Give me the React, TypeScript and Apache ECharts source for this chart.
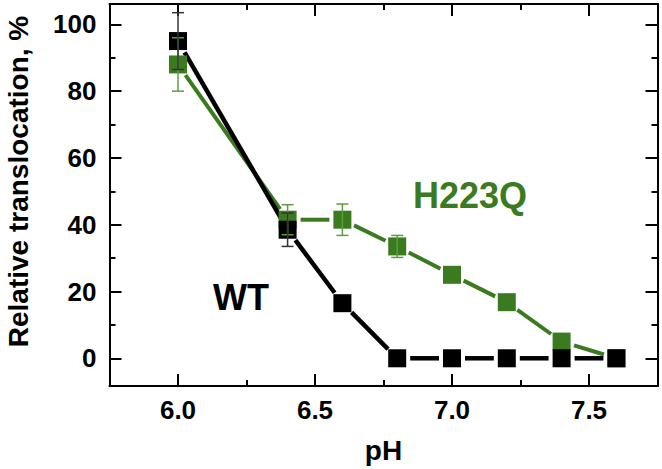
import React, { useEffect, useRef } from "react";
import * as echarts from "echarts";

// ---- data ----
const phValues = [6.0, 6.4, 6.6, 6.8, 7.0, 7.2, 7.4, 7.6];
const wtValues = [95, 38.5, 16.5, 0, 0, 0, 0, 0];
const wtErrors = [8.5, 5, 0, 0, 0, 0, 0, 0];
const h223qValues = [88, 41.5, 41.5, 33.5, 25, 16.8, 5, 0];
const h223qErrors = [8, 4.5, 4.7, 3.3, 0, 0, 0, 0];
const xTickLabels = ["6.0", "6.5", "7.0", "7.5"];
const yTickLabels = ["0", "20", "40", "60", "80", "100"];
const seriesNames = ["WT", "H223Q"];
const yAxisTitle = "Relative translocation, %";
const xAxisTitle = "pH";

const FONT = '"Liberation Sans", Arial, sans-serif';
const BLACK = "#000000";
const GREEN = "#3B7B1F";
const GREEN_ERR = "#5E9C40";
const BLACK_ERR = "#333333";

const X_MIN = 5.75;
const X_MAX = 7.75;
const Y_MIN = -8.3;
const Y_MAX = 106.1;
const LINE_GAP = 13;

function gapLine(name: string, values: number[], color: string, width: number, z: number) {
  const data = values.slice(0, -1).map((v, i) => [phValues[i], v, phValues[i + 1], values[i + 1]]);
  return {
    type: "custom",
    name,
    xAxisIndex: 0,
    yAxisIndex: 0,
    clip: false,
    silent: true,
    z,
    data,
    encode: { x: [0, 2], y: [1, 3] },
    renderItem: (_p: any, api: any) => {
      const p1 = api.coord([api.value(0), api.value(1)]);
      const p2 = api.coord([api.value(2), api.value(3)]);
      const dx = p2[0] - p1[0];
      const dy = p2[1] - p1[1];
      const len = Math.hypot(dx, dy);
      if (len <= 2 * LINE_GAP) return null;
      const ux = dx / len;
      const uy = dy / len;
      return {
        type: "line",
        shape: {
          x1: p1[0] + ux * LINE_GAP,
          y1: p1[1] + uy * LINE_GAP,
          x2: p2[0] - ux * LINE_GAP,
          y2: p2[1] - uy * LINE_GAP,
        },
        style: { stroke: color, lineWidth: width, lineCap: "butt" },
      };
    },
  };
}

function errorBars(name: string, values: number[], errs: number[], color: string, z: number) {
  const data = phValues
    .map((x, i) => [x, values[i] - errs[i], values[i] + errs[i], errs[i]])
    .filter((d) => d[3] > 0);
  return {
    type: "custom",
    name,
    xAxisIndex: 0,
    yAxisIndex: 0,
    clip: false,
    silent: true,
    z,
    data,
    encode: { x: 0, y: [1, 2] },
    renderItem: (_p: any, api: any) => {
      const lo = api.coord([api.value(0), api.value(1)]);
      const hi = api.coord([api.value(0), api.value(2)]);
      const cw = 6;
      const style = { stroke: color, lineWidth: 1.5 };
      return {
        type: "group",
        children: [
          { type: "line", shape: { x1: lo[0], y1: lo[1], x2: hi[0], y2: hi[1] }, style },
          { type: "line", shape: { x1: hi[0] - cw, y1: hi[1], x2: hi[0] + cw, y2: hi[1] }, style },
          { type: "line", shape: { x1: lo[0] - cw, y1: lo[1], x2: lo[0] + cw, y2: lo[1] }, style },
        ],
      };
    },
  };
}

function markers(name: string, values: number[], color: string, z: number) {
  return {
    type: "scatter",
    name,
    xAxisIndex: 0,
    yAxisIndex: 0,
    symbol: "rect",
    symbolSize: 18,
    clip: false,
    z,
    itemStyle: { color, opacity: 1 },
    data: phValues.map((x, i) => [x, values[i]]),
  };
}

const near = (a: number, b: number) => Math.abs(a - b) < 1e-6;

function xAxisDef(position: string, major: boolean, showLine: boolean, showLabels: boolean) {
  return {
    type: "value",
    position,
    min: major ? X_MIN : X_MIN - 0.25,
    max: major ? X_MAX : X_MAX - 0.25,
    minInterval: 0.5,
    maxInterval: 0.5,
    splitNumber: 4,
    splitLine: { show: false },
    axisLine: { show: showLine, onZero: false, lineStyle: { color: BLACK, width: 2 } },
    axisTick: { show: true, inside: true, length: major ? 12 : 6, lineStyle: { color: BLACK, width: 2 } },
    axisLabel: {
      show: showLabels,
      showMinLabel: false,
      showMaxLabel: false,
      margin: 11,
      color: BLACK,
      fontFamily: FONT,
      fontWeight: "bold",
      fontSize: 26,
      formatter: (v: number) => {
        const lbl = xTickLabels.find((t) => near(parseFloat(t), v));
        return lbl || "";
      },
    },
    ...(showLabels
      ? {
          name: xAxisTitle,
          nameLocation: "middle",
          nameGap: 50,
          nameTextStyle: { color: BLACK, fontFamily: FONT, fontWeight: "bold", fontSize: 28 },
        }
      : {}),
  };
}

function yAxisDef(position: string, major: boolean, showLine: boolean, showLabels: boolean) {
  return {
    type: "value",
    position,
    min: major ? Y_MIN : Y_MIN - 10,
    max: major ? Y_MAX : Y_MAX - 10,
    minInterval: 20,
    maxInterval: 20,
    splitNumber: 5,
    splitLine: { show: false },
    axisLine: { show: showLine, onZero: false, lineStyle: { color: BLACK, width: 2 } },
    axisTick: { show: true, inside: true, length: major ? 12 : 6, lineStyle: { color: BLACK, width: 2 } },
    axisLabel: {
      show: showLabels,
      showMinLabel: false,
      showMaxLabel: false,
      margin: 13,
      color: BLACK,
      fontFamily: FONT,
      fontWeight: "bold",
      fontSize: 26,
      formatter: (v: number) => {
        const lbl = yTickLabels.find((t) => near(parseFloat(t), v));
        return lbl || "";
      },
    },
  };
}

export default function App() {
  const ref = useRef<HTMLDivElement>(null);
  useEffect(() => {
    if (!ref.current) return;
    const chart = echarts.init(ref.current, undefined, { renderer: "svg" });
    chart.setOption({
      animation: false,
      backgroundColor: "#ffffff",
      grid: { left: 109.5, right: 4.5, top: 4, bottom: 81, containLabel: false },
      xAxis: [
        xAxisDef("bottom", true, true, true),
        xAxisDef("bottom", false, false, false),
        xAxisDef("top", true, true, false),
        xAxisDef("top", false, false, false),
      ],
      yAxis: [
        yAxisDef("left", true, true, true),
        yAxisDef("left", false, false, false),
        yAxisDef("right", true, true, false),
        yAxisDef("right", false, false, false),
      ],
      series: [
        gapLine(seriesNames[1], h223qValues, GREEN, 4, 2),
        gapLine(seriesNames[0], wtValues, BLACK, 4.5, 3),
        markers(seriesNames[1], h223qValues, GREEN, 4),
        markers(seriesNames[0], wtValues, BLACK, 5),
        errorBars(seriesNames[1] + " error", h223qValues, h223qErrors, GREEN_ERR, 6),
        errorBars(seriesNames[0] + " error", wtValues, wtErrors, BLACK_ERR, 7),
      ],
      graphic: [
        {
          type: "text",
          x: 18,
          y: 181.5,
          rotation: Math.PI / 2,
          style: {
            text: yAxisTitle,
            font: `bold 28px ${FONT}`,
            fill: BLACK,
            align: "center",
            verticalAlign: "middle",
          },
        },
        {
          type: "text",
          x: 241,
          y: 297,
          style: {
            text: seriesNames[0],
            font: `bold 36px ${FONT}`,
            fill: BLACK,
            align: "center",
            verticalAlign: "middle",
          },
        },
        {
          type: "text",
          x: 470,
          y: 195,
          style: {
            text: seriesNames[1],
            font: `bold 36px ${FONT}`,
            fill: GREEN,
            align: "center",
            verticalAlign: "middle",
          },
        },
      ],
    });
    return () => chart.dispose();
  }, []);
  return (
    <div
      ref={ref}
      style={{ position: "absolute", left: 0, top: 0, width: 662, height: 469, background: "#fff" }}
    />
  );
}
